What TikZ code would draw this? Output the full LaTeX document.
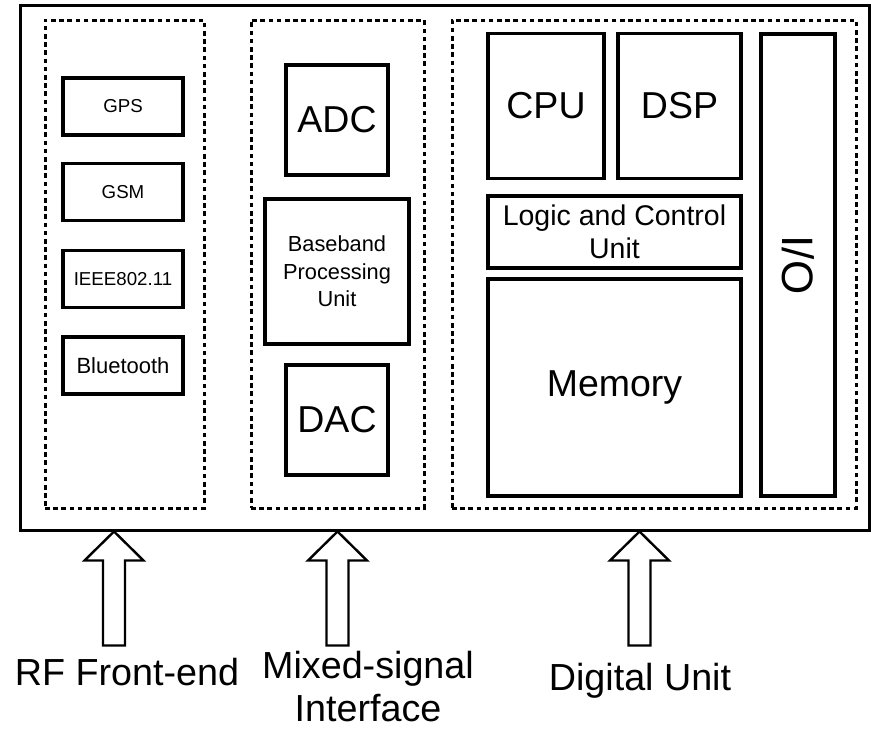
\documentclass[tikz,border=0pt]{standalone}
\usepackage{fontspec}
\setmainfont{Liberation Sans}
\begin{document}
\begin{tikzpicture}[x=1pt,y=-1pt,
  frame/.style={draw=black, line width=3pt, inner sep=0pt},
  zone/.style={draw=black, line width=3pt, dash pattern=on 4.6pt off 3.6pt, inner sep=0pt},
  unit/.style={draw=black, line width=3.4pt, inner sep=0pt, align=center, text=black},
  small/.style={font=\fontsize{18.7}{22}\selectfont},
  big/.style={font=\fontsize{37.5}{44}\selectfont},
  caption/.style={font=\fontsize{37.7}{43}\selectfont, inner sep=0pt, align=center, text depth=0pt},
  blockarrow/.pic={\draw[line width=2.4pt, fill=white] (0,0) -- ++(29.5,29) -- ++(-18.5,0) -- ++(0,85) -- ++(-22,0) -- ++(0,-85) -- ++(-18.5,0) -- cycle;}
]
\fill[white] (0,0) rectangle (871,729);
\useasboundingbox (0,0) rectangle (871,729);

% board and the three functional zones
\node[frame, minimum width=849pt, minimum height=525pt] (board) at (444.5,267.5) {};
\node[zone, minimum width=159pt, minimum height=488pt] (rfzone) at (124.5,264) {};
\node[zone, minimum width=173pt, minimum height=488pt] (mszone) at (337.5,264) {};
\node[zone, minimum width=404pt, minimum height=488pt] (dzone) at (654,264) {};

% RF front-end radios
\node[unit, small, minimum width=120pt, minimum height=57pt] (gps) at (123,106.5) {GPS};
\node[unit, small, minimum width=120pt, minimum height=57pt] (gsm) at (123,192) {GSM};
\node[unit, small, minimum width=120pt, minimum height=57pt] (wifi) at (123,279) {IEEE802.11};
\node[unit, font=\fontsize{22}{26}\selectfont, minimum width=120pt, minimum height=57pt] (bt) at (123,365.5) {Bluetooth};

% mixed-signal interface
\node[unit, big, minimum width=102pt, minimum height=110pt] (adc) at (337,120) {ADC};
\node[unit, font=\fontsize{21.8}{27.6}\selectfont, minimum width=144pt, minimum height=145pt] (bbu) at (337,271.5) {Baseband\\Processing\\Unit};
\node[unit, big, minimum width=102pt, minimum height=110pt] (dac) at (337,420) {DAC};

% digital unit
\node[unit, big, minimum width=116pt, minimum height=145pt] (cpu) at (546,106) {CPU};
\node[unit, big, minimum width=123pt, minimum height=145pt] (dsp) at (679.5,106) {DSP};
\node[unit, font=\fontsize{28.5}{33}\selectfont, minimum width=253pt, minimum height=72pt] (lcu) at (614.5,232) {Logic and Control\\Unit};
\node[unit, big, minimum width=253pt, minimum height=217pt] (mem) at (614.5,387.5) {Memory};
\node[unit, font=\fontsize{44}{50}\selectfont, rotate=-90, minimum width=462pt, minimum height=74pt] (io) at (798,265) {I/O};

% inputs
\coordinate (rftip) at (114,0 |- board.south);
\coordinate (mstip) at (337.5,0 |- board.south);
\coordinate (dtip) at (639.5,0 |- board.south);
\pic at (rftip) {blockarrow};
\pic at (mstip) {blockarrow};
\pic at (dtip) {blockarrow};

\node[caption, anchor=base] (rflabel) at (127,685) {RF Front-end};
\node[caption, anchor=base] (mslabel) at (368,721) {Mixed-signal\\Interface};
\node[caption, anchor=base] (dlabel) at (640,690) {Digital Unit};
\end{tikzpicture}
\end{document}
